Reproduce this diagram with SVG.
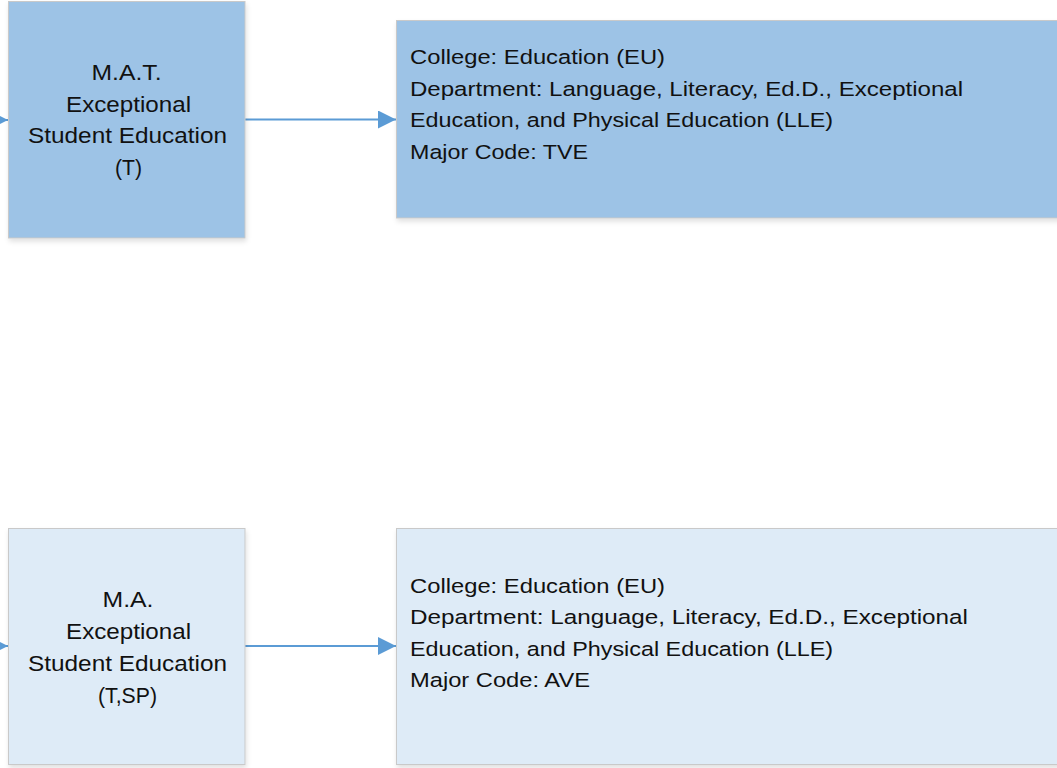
<svg xmlns="http://www.w3.org/2000/svg" width="1057" height="768" viewBox="0 0 1057 768">
  <defs>
    <style>
      .box { stroke: #c9c9c9; stroke-width: 1; filter: url(#shadow); }
      .dark { fill: #9dc3e6; }
      .light { fill: #deebf7; }
      .lbl { font-family: "Liberation Sans", Arial, sans-serif; fill: #111111; }
      .ctr { font-size: 21.5px; text-anchor: middle; }
      .info { font-size: 20.5px; }
      .conn { stroke: #5b9bd5; stroke-width: 2; fill: none; }
    </style>
    <filter id="shadow" x="-5%" y="-5%" width="115%" height="120%">
      <feDropShadow dx="1" dy="3" stdDeviation="2.5" flood-color="#000000" flood-opacity="0.12"/>
    </filter>
    <marker id="arrow" markerWidth="18" markerHeight="18" refX="18" refY="9" orient="auto" markerUnits="userSpaceOnUse">
      <path d="M0,0 L18,9 L0,18 Z" fill="#5b9bd5"/>
    </marker>
  </defs>
  <rect width="1057" height="768" fill="#ffffff"/>

  <g id="connectors">
    <line class="conn" x1="-30" y1="120" x2="8" y2="120" marker-end="url(#arrow)"/>
    <line class="conn" x1="245" y1="119.5" x2="396" y2="119.5" marker-end="url(#arrow)"/>
    <line class="conn" x1="-30" y1="646" x2="8" y2="646" marker-end="url(#arrow)"/>
    <line class="conn" x1="245" y1="646" x2="396" y2="646" marker-end="url(#arrow)"/>
  </g>

  <g id="node-mat">
    <rect class="box dark" x="8.5" y="1.5" width="236.5" height="236.5"/>
    <text class="lbl ctr" x="126.5" y="80" textLength="70" lengthAdjust="spacingAndGlyphs">M.A.T.</text>
    <text class="lbl ctr" x="128.5" y="111.7" textLength="125" lengthAdjust="spacingAndGlyphs">Exceptional</text>
    <text class="lbl ctr" x="127.5" y="143.3" textLength="199" lengthAdjust="spacingAndGlyphs">Student Education</text>
    <text class="lbl ctr" x="128.5" y="175" textLength="27" lengthAdjust="spacingAndGlyphs">(T)</text>
  </g>

  <g id="node-mat-info">
    <rect class="box dark" x="396.5" y="20.5" width="670" height="197.5"/>
    <text class="lbl info" x="410" y="64" textLength="255" lengthAdjust="spacingAndGlyphs">College: Education (EU)</text>
    <text class="lbl info" x="410" y="95.5" textLength="553" lengthAdjust="spacingAndGlyphs">Department: Language, Literacy, Ed.D., Exceptional</text>
    <text class="lbl info" x="410" y="127" textLength="423" lengthAdjust="spacingAndGlyphs">Education, and Physical Education (LLE)</text>
    <text class="lbl info" x="410" y="158.5" textLength="178" lengthAdjust="spacingAndGlyphs">Major Code: TVE</text>
  </g>

  <g id="node-ma">
    <rect class="box light" x="8.5" y="528.5" width="236.5" height="236"/>
    <text class="lbl ctr" x="128" y="607" textLength="51" lengthAdjust="spacingAndGlyphs">M.A.</text>
    <text class="lbl ctr" x="128.5" y="639" textLength="125" lengthAdjust="spacingAndGlyphs">Exceptional</text>
    <text class="lbl ctr" x="127.5" y="671" textLength="199" lengthAdjust="spacingAndGlyphs">Student Education</text>
    <text class="lbl ctr" x="127.5" y="702.5" textLength="59" lengthAdjust="spacingAndGlyphs">(T,SP)</text>
  </g>

  <g id="node-ma-info">
    <rect class="box light" x="396.5" y="528.5" width="670" height="236"/>
    <text class="lbl info" x="410" y="592.5" textLength="255" lengthAdjust="spacingAndGlyphs">College: Education (EU)</text>
    <text class="lbl info" x="410" y="624" textLength="558" lengthAdjust="spacingAndGlyphs">Department:  Language, Literacy, Ed.D., Exceptional</text>
    <text class="lbl info" x="410" y="655.5" textLength="423" lengthAdjust="spacingAndGlyphs">Education, and Physical Education (LLE)</text>
    <text class="lbl info" x="410" y="687" textLength="180" lengthAdjust="spacingAndGlyphs">Major Code: AVE</text>
  </g>
</svg>
